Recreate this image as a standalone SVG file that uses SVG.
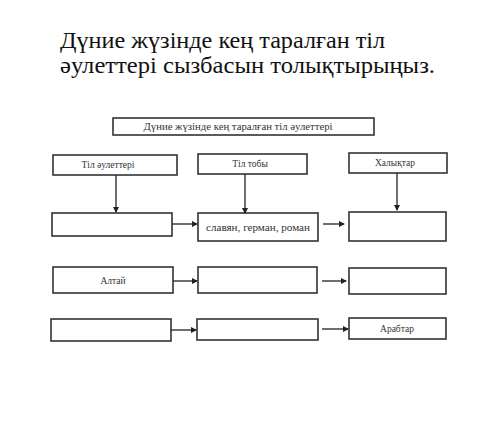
<svg xmlns="http://www.w3.org/2000/svg" width="500" height="442" viewBox="0 0 500 442">
<defs>
<marker id="ah" markerWidth="6" markerHeight="6" refX="5" refY="3" orient="auto" markerUnits="userSpaceOnUse">
<path d="M0,0 L6,3 L0,6 Z" fill="#222"/>
</marker>
<style>
.box{fill:#fff;stroke:#333;stroke-width:1.6}
.lbl{font-family:'Liberation Serif','DejaVu Serif',serif;font-size:9.5px;fill:#333;text-anchor:middle;dominant-baseline:central}
.title{font-family:'Liberation Serif','DejaVu Serif',serif;font-size:24px;fill:#111}
.con{stroke:#222;stroke-width:1.3;fill:none;marker-end:url(#ah)}
</style>
</defs>
<rect width="500" height="442" fill="#fff"/>
<text class="title" x="60" y="48" textLength="325" lengthAdjust="spacingAndGlyphs">Дүние жүзінде кең таралған тіл</text>
<text class="title" x="60" y="73" textLength="375" lengthAdjust="spacingAndGlyphs">әулеттері сызбасын толықтырыңыз.</text>

<g id="header"><rect class="box" x="113" y="118" width="261" height="17"/><text class="lbl" x="238" y="127" textLength="189" lengthAdjust="spacingAndGlyphs">Дүние жүзінде кең таралған тіл әулеттері</text></g>
<g id="til-auletteri"><rect class="box" x="53" y="155" width="124" height="20"/><text class="lbl" x="108" y="165">Тіл  әулеттері</text></g>
<g id="til-toby"><rect class="box" x="198" y="154" width="109" height="20"/><text class="lbl" x="250" y="164">Тіл тобы</text></g>
<g id="khalyktar"><rect class="box" x="349" y="153" width="98" height="20"/><text class="lbl" x="395" y="163">Халықтар</text></g>

<g id="r1c1"><rect class="box" x="52" y="213" width="120" height="23"/></g>
<g id="r1c2"><rect class="box" x="198" y="213" width="120" height="28"/><text class="lbl" x="258" y="228" textLength="104" lengthAdjust="spacingAndGlyphs">славян, герман, роман</text></g>
<g id="r1c3"><rect class="box" x="349" y="212" width="97" height="29"/></g>

<g id="r2c1"><rect class="box" x="53" y="267" width="120" height="26"/><text class="lbl" x="113" y="281">Алтай</text></g>
<g id="r2c2"><rect class="box" x="198" y="267" width="119" height="26"/></g>
<g id="r2c3"><rect class="box" x="349" y="268" width="97" height="26"/></g>

<g id="r3c1"><rect class="box" x="51" y="319" width="120" height="22"/></g>
<g id="r3c2"><rect class="box" x="197" y="319" width="121" height="21"/></g>
<g id="r3c3"><rect class="box" x="349" y="318" width="97" height="21"/><text class="lbl" x="397" y="329">Арабтар</text></g>

<g id="connectors">
<line class="con" x1="116" y1="175" x2="116" y2="212"/>
<line class="con" x1="245" y1="174" x2="245" y2="213"/>
<line class="con" x1="397" y1="173" x2="397" y2="210"/>
<line class="con" x1="172" y1="224" x2="197" y2="224"/>
<line class="con" x1="323" y1="224" x2="344" y2="224"/>
<line class="con" x1="173" y1="281" x2="197" y2="281"/>
<line class="con" x1="322" y1="281" x2="346" y2="281"/>
<line class="con" x1="171" y1="330" x2="196" y2="330"/>
<line class="con" x1="322" y1="329" x2="348" y2="329"/>
</g>
</svg>
